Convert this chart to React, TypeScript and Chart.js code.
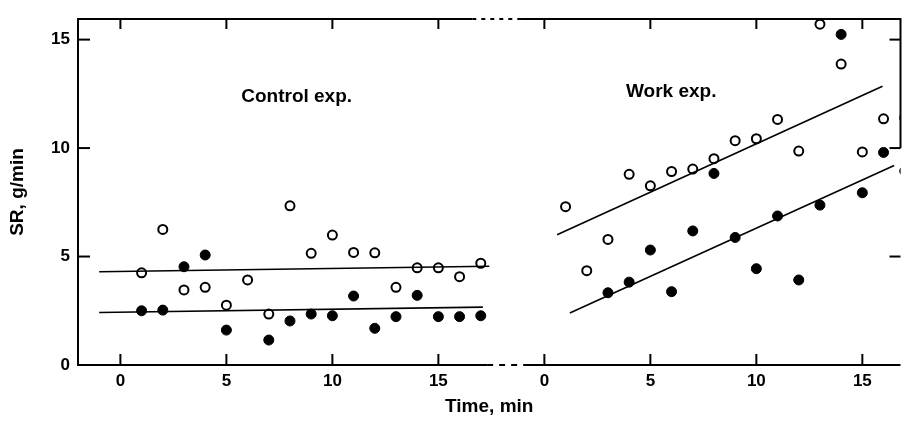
import React, { useEffect, useRef } from "react";
import { Chart, registerables } from "chart.js";

Chart.register(...registerables);

// ---- data ----
const controlTimes = [1, 2, 3, 4, 5, 6, 7, 8, 9, 10, 11, 12, 13, 14, 15, 16, 17];
const controlOpen = [4.25, 6.25, 3.46, 3.58, 2.76, 3.92, 2.35, 7.34, 5.15, 5.99, 5.19, 5.17, 3.58, 4.48, 4.48, 4.07, 4.69];
const controlFilledTimes = [1, 2, 3, 4, 5, 7, 8, 9, 10, 11, 12, 13, 14, 15, 16, 17];
const controlFilled = [2.5, 2.53, 4.53, 5.07, 1.61, 1.15, 2.03, 2.35, 2.27, 3.18, 1.69, 2.23, 3.21, 2.23, 2.23, 2.27];

const workTimes = [1, 2, 3, 4, 5, 6, 7, 8, 9, 10, 11, 12, 13, 14, 15, 16, 17];
const workOpen = [7.3, 4.35, 5.79, 8.79, 8.26, 8.92, 9.03, 9.51, 10.34, 10.43, 11.32, 9.86, 15.71, 13.87, 9.82, 11.35, 11.4];
const workFilledTimes = [3, 4, 5, 6, 7, 8, 9, 10, 11, 12, 13, 14, 15, 16, 17];
const workFilled = [3.33, 3.82, 5.3, 3.38, 6.18, 8.83, 5.88, 4.44, 6.87, 3.92, 7.37, 15.24, 7.94, 9.8, 8.94];

// regression lines (time, value) endpoints
const controlOpenFitT = [-1, 17.4];
const controlOpenFitV = [4.3, 4.55];
const controlFilledFitT = [-1, 17.1];
const controlFilledFitV = [2.42, 2.67];
const workOpenFitT = [0.6, 15.95];
const workOpenFitV = [6.0, 12.85];
const workFilledFitT = [1.2, 16.5];
const workFilledFitV = [2.4, 9.2];

// the work experiment is drawn on the same axis, shifted by this many minutes
const WORK_OFFSET = 20;

const xTickValues = [0, 5, 10, 15, 20, 25, 30, 35];
const xTickLabels = ["0", "5", "10", "15", "0", "5", "10", "15"];
const yTickValues = [0, 5, 10, 15];
const yInnerTicks = [5, 10, 15];
const topBreak = [16.6, 18.9];
const bottomBreak = [17.3, 19.0];

const annotations = [
  { text: "Control exp.", t: 5.7, v: 12.35 },
  { text: "Work exp.", t: 3.85 + WORK_OFFSET, v: 12.58 },
];

const FONT = "'Liberation Sans', Arial, Helvetica, sans-serif";

const pts = (ts: number[], vs: number[], off = 0) => ts.map((t, i) => ({ x: t + off, y: vs[i] }));

const framePlugin = {
  id: "frame",
  afterDatasetsDraw(chart: any) {
    const ctx = chart.ctx;
    const { left, right, top, bottom } = chart.chartArea;
    const xs = chart.scales.x;
    const ys = chart.scales.y;
    ctx.save();
    ctx.strokeStyle = "#000";
    ctx.lineWidth = 2;
    const line = (x1: number, y1: number, x2: number, y2: number, dash: number[] = []) => {
      ctx.setLineDash(dash);
      ctx.beginPath();
      ctx.moveTo(x1, y1);
      ctx.lineTo(x2, y2);
      ctx.stroke();
    };
    // left axis
    line(left, bottom + 1, left, top - 1);
    // top border with break
    line(left - 1, top, xs.getPixelForValue(topBreak[0]), top);
    line(xs.getPixelForValue(topBreak[0]), top, xs.getPixelForValue(topBreak[1]), top, [4, 5]);
    line(xs.getPixelForValue(topBreak[1]), top, right, top);
    // bottom axis with break
    line(left - 1, bottom, xs.getPixelForValue(bottomBreak[0]), bottom);
    line(xs.getPixelForValue(bottomBreak[0]), bottom, xs.getPixelForValue(bottomBreak[1]), bottom, [6, 6]);
    line(xs.getPixelForValue(bottomBreak[1]), bottom, right, bottom);
    // right border
    line(right, top - 1, right, ys.getPixelForValue(10));
    ctx.setLineDash([]);
    // x ticks (bottom up, top down)
    xTickValues.forEach((v) => {
      const px = xs.getPixelForValue(v);
      line(px, bottom, px, bottom - 11);
      line(px, top, px, top + 10);
    });
    // y ticks inward
    yInnerTicks.forEach((v) => {
      const py = ys.getPixelForValue(v);
      line(left, py, left + 12, py);
      line(right, py, right - 11, py);
    });
    // annotations
    ctx.fillStyle = "#000";
    ctx.font = `bold 19px ${FONT}`;
    ctx.textAlign = "left";
    ctx.textBaseline = "middle";
    annotations.forEach((a) => {
      ctx.fillText(a.text, xs.getPixelForValue(a.t), ys.getPixelForValue(a.v));
    });
    ctx.restore();
  },
};

export default function App() {
  const ref = useRef<HTMLCanvasElement | null>(null);
  useEffect(() => {
    if (!ref.current) return;
    const openStyle = {
      showLine: false,
      pointRadius: 4.5,
      pointBorderWidth: 2,
      pointBorderColor: "#000",
      pointBackgroundColor: "#fff",
      pointHoverRadius: 4.5,
    };
    const filledStyle = {
      showLine: false,
      pointRadius: 5,
      pointBorderWidth: 1,
      pointBorderColor: "#000",
      pointBackgroundColor: "#000",
      pointHoverRadius: 5,
    };
    const fitStyle = {
      showLine: true,
      borderColor: "#000",
      borderWidth: 1.6,
      pointRadius: 0,
      fill: false,
    };
    const chart = new Chart(ref.current, {
      type: "scatter",
      data: {
        datasets: [
          { label: "control fit open", data: pts(controlOpenFitT, controlOpenFitV), ...fitStyle },
          { label: "control fit filled", data: pts(controlFilledFitT, controlFilledFitV), ...fitStyle },
          { label: "work fit open", data: pts(workOpenFitT, workOpenFitV, WORK_OFFSET), ...fitStyle },
          { label: "work fit filled", data: pts(workFilledFitT, workFilledFitV, WORK_OFFSET), ...fitStyle },
          { label: "control open", data: pts(controlTimes, controlOpen), ...openStyle },
          { label: "control filled", data: pts(controlFilledTimes, controlFilled), ...filledStyle },
          { label: "work open", data: pts(workTimes, workOpen, WORK_OFFSET), ...openStyle },
          { label: "work filled", data: pts(workFilledTimes, workFilled, WORK_OFFSET), ...filledStyle },
        ] as any,
      },
      options: {
        animation: false,
        responsive: true,
        maintainAspectRatio: false,
        layout: { padding: { top: 19, right: 2, left: 0, bottom: 0 } },
        plugins: { legend: { display: false }, tooltip: { enabled: false } },
        scales: {
          x: {
            type: "linear",
            min: -2,
            max: 36.8,
            afterBuildTicks: (s: any) => {
              s.ticks = xTickValues.map((v) => ({ value: v }));
            },
            afterFit: (s: any) => {
              s.height = 56;
            },
            grid: { display: false, drawTicks: false },
            border: { display: false },
            ticks: {
              color: "#000",
              padding: 6,
              font: { family: FONT, size: 17, weight: "bold" },
              maxRotation: 0,
              autoSkip: false,
              callback: (_v: any, i: number) => xTickLabels[i],
            },
            title: {
              display: true,
              text: "Time, min",
              color: "#000",
              font: { family: FONT, size: 19, weight: "bold" },
              padding: { top: 0, bottom: 3 },
            },
          },
          y: {
            type: "linear",
            min: 0,
            max: 15.95,
            afterBuildTicks: (s: any) => {
              s.ticks = yTickValues.map((v) => ({ value: v }));
            },
            afterFit: (s: any) => {
              s.width = 78;
            },
            grid: { display: false, drawTicks: false },
            border: { display: false },
            ticks: {
              color: "#000",
              padding: 8,
              font: { family: FONT, size: 17, weight: "bold" },
              callback: (v: any) => String(v),
            },
            title: {
              display: true,
              text: "SR, g/min",
              color: "#000",
              font: { family: FONT, size: 19, weight: "bold" },
              padding: { top: 6, bottom: 0 },
            },
          },
        },
      } as any,
      plugins: [framePlugin],
    });
    return () => chart.destroy();
  }, []);
  return (
    <div style={{ position: "absolute", left: 0, top: 0, width: 907, height: 421, background: "#fff" }}>
      <canvas ref={ref} />
    </div>
  );
}
